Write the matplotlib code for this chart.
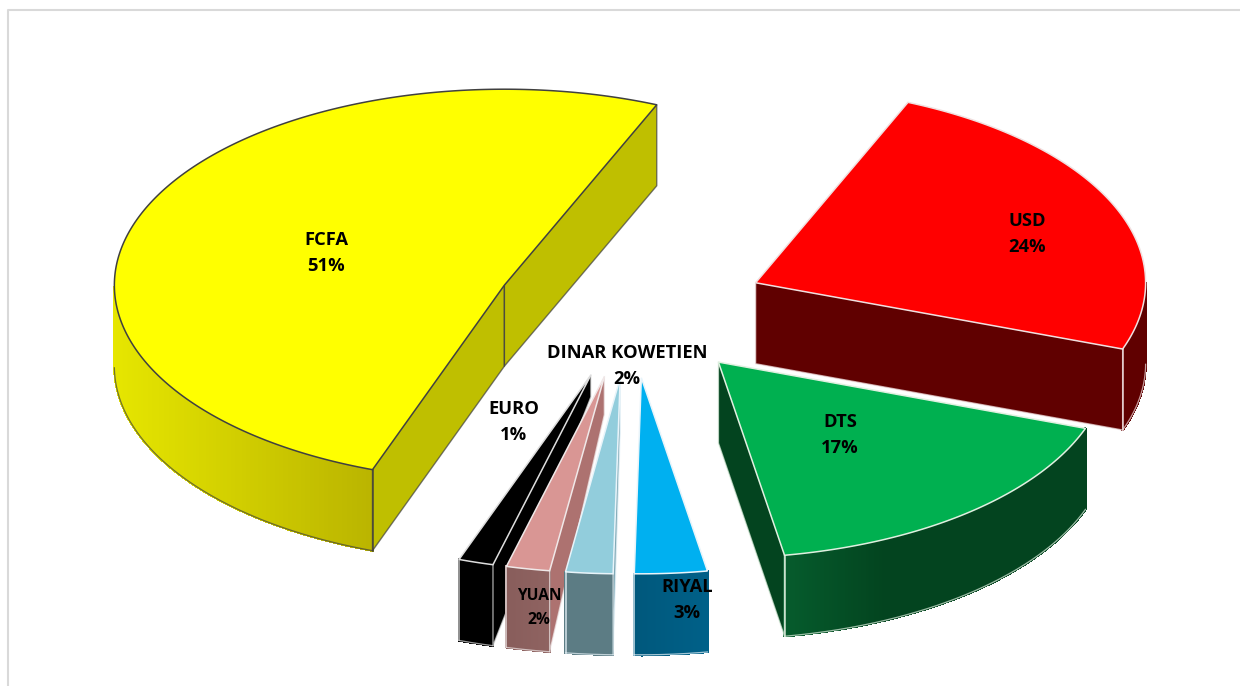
# -*- coding: utf-8 -*-
"""
Camembert 3D eclate : repartition par devise.
"""
import numpy as np
import matplotlib
matplotlib.use("Agg")
import matplotlib.pyplot as plt
from matplotlib.collections import PolyCollection
from matplotlib.colors import to_rgb

plt.rcParams["font.family"] = ["Open Sans", "DejaVu Sans"]

# donnees, sens horaire a partir de USD (estimees d'apres les parts dessinees)
labels = ["USD", "DTS", "RIYAL", "DINAR KOWETIEN", "YUAN", "EURO", "FCFA"]
values = [24.1, 16.8, 3, 1.95, 1.8, 1.45, 50.9]

# styles
top_colors = ["#FF0000", "#00B050", "#00B0F0", "#92CDDC", "#D99694", "#000000", "#FFFF00"]
cut_colors = ["#600000", "#03441F", "#00587C", "#7FA8B5", "#AD7270", "#000000", "#BFBF00"]
rim_left = ["#600000", "#065C2D", "#00587C", "#5C7C84", "#885D5B", "#000000", "#E6E600"]
rim_right = ["#600000", "#03441F", "#006088", "#5C7C84", "#8F6361", "#000000", "#BAB400"]
edge_colors = ["#F0E0E0", "#E0F0E0", "#E8F4FA", "#E8F4FA", "#F0E8E8", "#DDDDDD", "#404040"]
label_pos = [(1027, 234), (840, 435), (687, 600), (627, 366), (539, 608), (514, 422), (326, 253)]
label_size = [13.2, 13.2, 13.2, 13.2, 11.2, 13.2, 13.2]
# epaisseur de la face de coupe cote centre (reduite sur les petites parts)
apex_depth = [81, 81, 81, 55, 38, 22, 81]

# geometrie en pixels
CX, CY = 631, 310
RX, RY = 390, 196
EXPLODE = 136
DEPTH = 81
START = 67.0

fig = plt.figure(figsize=(12.4, 6.86), dpi=100)
ax = fig.add_axes([0, 0, 1, 1])
ax.set_xlim(0, 1240)
ax.set_ylim(686, 0)
ax.axis("off")

# cadre du graphique, coupe a droite et en bas
ax.plot([8, 8, 1240], [686, 10, 10], color="#D9D9D9", lw=1.5, zorder=0)


def mix(c1, c2, t):
    return tuple((1 - t) * a + t * b for a, b in zip(to_rgb(c1), to_rgb(c2)))


angle = START
for i, (name, val) in enumerate(zip(labels, values)):
    sweep = val / sum(values) * 360
    a_ccw, a_cw = angle, angle - sweep
    angle = a_cw
    mid = np.radians((a_ccw + a_cw) / 2)
    ox = CX + EXPLODE * np.cos(mid)
    oy = CY - EXPLODE * 0.5 * np.sin(mid)

    th = np.radians(np.linspace(a_cw, a_ccw, 240))
    ex = ox + RX * np.cos(th)
    ey = oy - RY * np.sin(th)
    z = 30 - i  # EURO passe sous YUAN, YUAN sous DINAR

    # faces de coupe, visibles selon leur orientation
    for a, visible in ((a_cw, np.cos(np.radians(a_cw)) > 0), (a_ccw, np.cos(np.radians(a_ccw)) < 0)):
        if visible:
            px = ox + RX * np.cos(np.radians(a))
            py = oy - RY * np.sin(np.radians(a))
            ax.fill([ox, px, px, ox], [oy, py, py + DEPTH, oy + apex_depth[i]],
                    facecolor=cut_colors[i], edgecolor="none", zorder=z)
            ax.plot([px, px, ox, ox], [py, py + DEPTH, oy + apex_depth[i], oy],
                    color=edge_colors[i], lw=1.0, alpha=0.7, zorder=z + 0.2)

    # pourtour avec degrade gauche-droite
    front = np.sin(th) < 0
    if front.any():
        fx, fy = ex[front], ey[front]
        order = np.argsort(fx)
        fx, fy = fx[order], fy[order]
        quads = []
        cols = []
        span = max(fx.max() - fx.min(), 1)
        for k in range(len(fx) - 1):
            quads.append([(fx[k], fy[k]), (fx[k + 1], fy[k + 1]),
                          (fx[k + 1], fy[k + 1] + DEPTH), (fx[k], fy[k] + DEPTH)])
            t = (fx[k] - fx.min()) / span
            if name == "DTS":
                t = min(t * 3, 1)
            cols.append(mix(rim_left[i], rim_right[i], t))
        ax.add_collection(PolyCollection(quads, facecolors=cols, edgecolors=cols, linewidths=1.0,
                                         antialiaseds=False, zorder=z + 0.1))
        ax.plot(fx, fy + DEPTH, color=edge_colors[i], lw=0.9, alpha=0.7, zorder=z + 0.2)
        # arete verticale de l'extremite
        end_a = a_ccw if name == "FCFA" else a_cw
        end_x = ox + RX * np.cos(np.radians(end_a))
        end_y = oy - RY * np.sin(np.radians(end_a))
        ax.plot([end_x, end_x], [end_y, end_y + DEPTH], color=edge_colors[i], lw=1.2, alpha=0.8, zorder=z + 0.2)

    # dessus
    ax.fill(np.r_[ox, ex], np.r_[oy, ey], facecolor=top_colors[i],
            edgecolor=edge_colors[i], lw=1.1, joinstyle="miter", zorder=z + 0.3)

    x_lab, y_lab = label_pos[i]
    ax.text(x_lab, y_lab, f"{name}\n{val:.0f}%", ha="center", va="center",
            fontsize=label_size[i], fontweight="bold", color="black", linespacing=1.6, zorder=50)

fig.savefig("out.png", dpi=100)
